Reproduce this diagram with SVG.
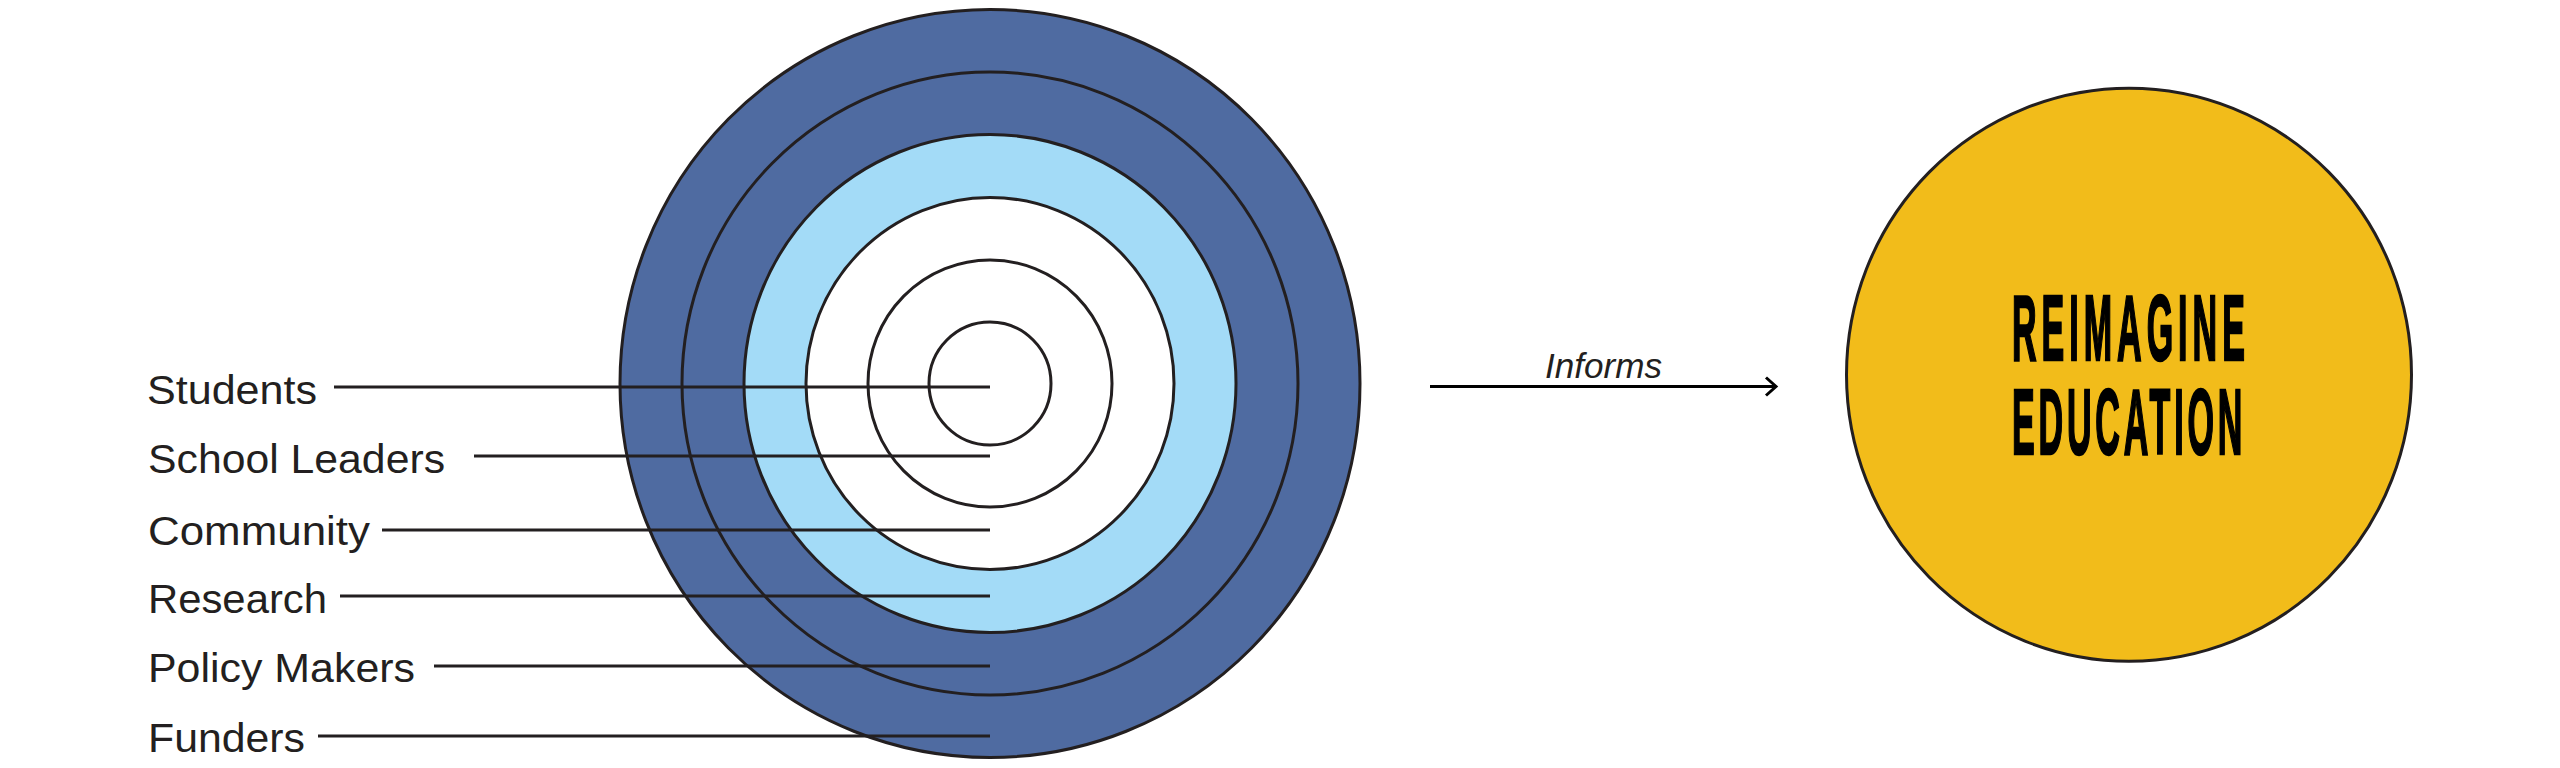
<svg xmlns="http://www.w3.org/2000/svg" width="2560" height="768" viewBox="0 0 2560 768">
<style>
.ring{stroke:#231f20;stroke-width:3}
.blue{fill:#4f6ba1}
.lblue{fill:#a3dbf7}
.white{fill:#ffffff}
.lbl{font-family:"Liberation Sans",Arial,sans-serif;font-size:40px;fill:#231f20}
.conn{stroke:#231f20;stroke-width:3;fill:none}
.big{font-family:"Liberation Sans",Arial,sans-serif;font-weight:bold;font-size:92px;fill:#000;stroke:#000;stroke-width:2.5;stroke-linejoin:miter}
.inf{font-family:"Liberation Sans",Arial,sans-serif;font-style:italic;font-size:35px;fill:#231f20}
</style>
<defs>
<marker id="chev" viewBox="0 0 16 24" markerWidth="16" markerHeight="24" refX="13" refY="12" orient="auto" markerUnits="userSpaceOnUse">
<path d="M3,3 L13,12 L3,21" fill="none" stroke="#000" stroke-width="3"/>
</marker>
</defs>
<rect width="2560" height="768" fill="#ffffff"/>
<g id="rings">
<ellipse id="ring-funders" class="ring blue" cx="990" cy="383.5" rx="370" ry="374"/>
<ellipse id="ring-policy" class="ring blue" cx="990" cy="383.5" rx="308" ry="311.5"/>
<ellipse id="ring-research" class="ring lblue" cx="990" cy="383.5" rx="246" ry="249"/>
<ellipse id="ring-community" class="ring white" cx="990" cy="383.5" rx="184" ry="186"/>
<ellipse id="ring-leaders" class="ring white" cx="990" cy="383.5" rx="122" ry="123.5"/>
<ellipse id="ring-students" class="ring white" cx="990" cy="383.5" rx="61" ry="61.5"/>
</g>
<g id="labels">
<g id="label-students"><text class="lbl" x="147" y="404" textLength="170" lengthAdjust="spacingAndGlyphs">Students</text></g>
<g id="label-leaders"><text class="lbl" x="148" y="473" textLength="297" lengthAdjust="spacingAndGlyphs">School Leaders</text></g>
<g id="label-community"><text class="lbl" x="148" y="545" textLength="222" lengthAdjust="spacingAndGlyphs">Community</text></g>
<g id="label-research"><text class="lbl" x="148" y="613" textLength="179" lengthAdjust="spacingAndGlyphs">Research</text></g>
<g id="label-policy"><text class="lbl" x="148" y="682" textLength="267" lengthAdjust="spacingAndGlyphs">Policy Makers</text></g>
<g id="label-funders"><text class="lbl" x="148" y="752" textLength="157" lengthAdjust="spacingAndGlyphs">Funders</text></g>
</g>
<g id="reimagine">
<ellipse cx="2129" cy="374.7" rx="282.5" ry="286.5" fill="#f2bc1a" stroke="#231f20" stroke-width="3"/>
<text class="big" transform="translate(2012,359.5) scale(0.37,1)" letter-spacing="13.5">REIMAGINE</text>
<text class="big" transform="translate(2012,453.5) scale(0.37,1)" letter-spacing="10.3">EDUCATION</text>
</g>
<g id="connectors">
<line class="conn" x1="334" y1="387" x2="990" y2="387"/>
<line class="conn" x1="474" y1="456" x2="990" y2="456"/>
<line class="conn" x1="382" y1="530" x2="990" y2="530"/>
<line class="conn" x1="340" y1="596" x2="990" y2="596"/>
<line class="conn" x1="434" y1="666" x2="990" y2="666"/>
<line class="conn" x1="318" y1="736" x2="990" y2="736"/>
<line id="informs-arrow" x1="1430" y1="386.5" x2="1776" y2="386.5" stroke="#000" stroke-width="3" marker-end="url(#chev)"/>
<text class="inf" x="1545" y="378" textLength="117" lengthAdjust="spacingAndGlyphs">Informs</text>
</g>
</svg>
